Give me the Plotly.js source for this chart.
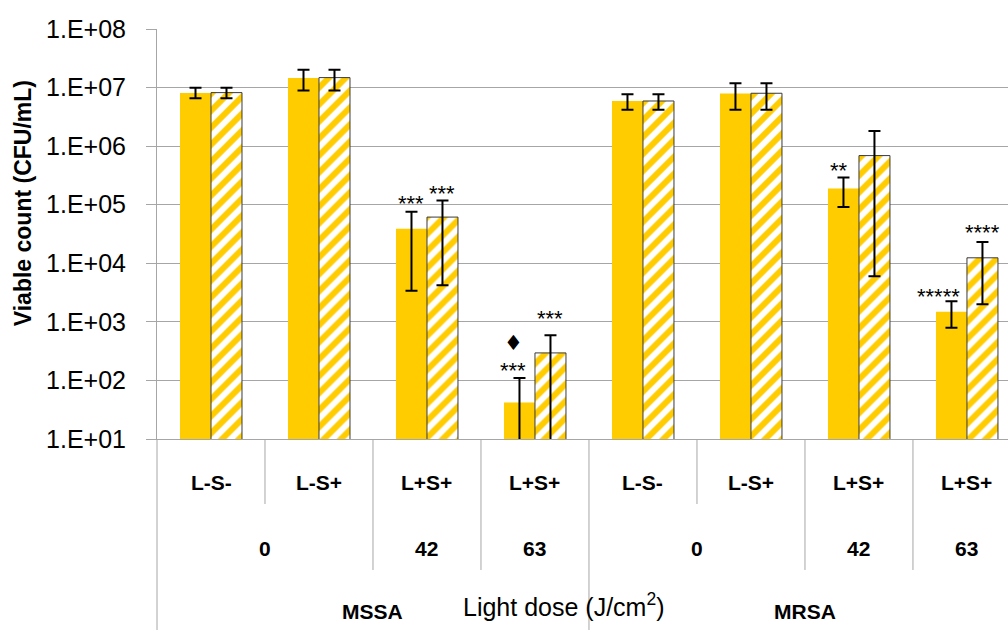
<!DOCTYPE html>
<html>
<head>
<meta charset="utf-8">
<script src="https://cdn.plot.ly/plotly-3.0.1.min.js"></script>
<style>
html, body { margin: 0; padding: 0; background: #fff; overflow: hidden; }
#chart { width: 1008px; height: 630px; }
</style>
</head>
<body>
<div id="chart"></div>
<script>
// ---- Data ----
const treatments = ['L-S-', 'L-S+', 'L+S+', 'L+S+', 'L-S-', 'L-S+', 'L+S+', 'L+S+'];
const doseLabels = ['0', '42', '63', '0', '42', '63'];
const doseStart = [0, 2, 3, 4, 6, 7];
const doseEnd = [1, 2, 3, 5, 6, 7];
const strainLabels = ['MSSA', 'MRSA'];
const strainStart = [0, 4];
const strainEnd = [3, 7];

const solidValues = [8.1e6, 1.46e7, 3.9e4, 42, 5.9e6, 7.9e6, 1.89e5, 1.49e3];
const solidErrPlus = [1.8e6, 5.6e6, 3.7e4, 68, 1.8e6, 4.0e6, 1.03e5, 750];
const solidErrMinus = [1.5e6, 5.7e6, 3.56e4, 37, 1.7e6, 3.7e6, 9.8e4, 700];

const hatchValues = [8.2e6, 1.48e7, 6.15e4, 295, 5.9e6, 8.0e6, 6.9e5, 1.24e4];
const hatchErrPlus = [1.7e6, 5.4e6, 5.65e4, 295, 1.8e6, 3.9e6, 1.13e6, 1.07e4];
const hatchErrMinus = [1.6e6, 5.9e6, 5.73e4, 290, 1.7e6, 3.8e6, 6.84e5, 1.04e4];

const yTickVals = [1e1, 1e2, 1e3, 1e4, 1e5, 1e6, 1e7, 1e8];
const yTickText = ['1.E+01', '1.E+02', '1.E+03', '1.E+04', '1.E+05', '1.E+06', '1.E+07', '1.E+08'];

// significance marks: group index, series (0 solid, 1 hatched), text
const sigGroup = [2, 2, 3, 3, 3, 6, 7, 7];
const sigSeries = [0, 1, 0, 0, 1, 0, 0, 1];
const sigText = ['***', '***', '***', '\u2666', '***', '**', '*****', '****'];

// ---- Styling / layout helpers ----
const YELLOW = '#FFCC00';
const GRID = '#A6A6A6';
const xIdx = treatments.map((_, i) => i);
const BAR_OFF = 0.1435; // half of one bar width in category units (bargap based)
const sigShift = [13, 12, 13, 35, 22, 12, 10, 14];
const sigDx = [0, 0, -6, -6, 0, -4, -13, 0];
const FAM = 'Liberation Sans, Arial, sans-serif';

const traceSolid = {
  type: 'bar', name: 'Solid', x: xIdx, y: solidValues,
  marker: { color: YELLOW, line: { width: 0 } },
  error_y: { type: 'data', symmetric: false, array: solidErrPlus, arrayminus: solidErrMinus,
             color: '#000', thickness: 2, width: 6 },
  hoverinfo: 'y', showlegend: false
};
const traceHatch = {
  type: 'bar', name: 'Hatched', x: xIdx, y: hatchValues,
  marker: { color: 'white', line: { color: '#3a3a3a', width: 1 },
            pattern: { shape: '/', fgcolor: YELLOW, bgcolor: 'white', size: 12, solidity: 0.5, fillmode: 'replace' } },
  error_y: { type: 'data', symmetric: false, array: hatchErrPlus, arrayminus: hatchErrMinus,
             color: '#000', thickness: 2, width: 6 },
  hoverinfo: 'y', showlegend: false
};

const annotations = [];
const shapes = [];
const lblFont = { family: FAM, size: 21, color: '#000' };

// row 1: treatment labels
treatments.forEach((t, i) => {
  annotations.push({ xref: 'x', yref: 'paper', x: i, y: -0.1066, text: '<b>' + t + '</b>',
    showarrow: false, font: lblFont, xanchor: 'center', yanchor: 'middle' });
});
// row 2: dose labels
doseLabels.forEach((d, k) => {
  annotations.push({ xref: 'x', yref: 'paper', x: (doseStart[k] + doseEnd[k]) / 2, y: -0.2659,
    text: '<b>' + d + '</b>', showarrow: false, font: lblFont, xanchor: 'center', yanchor: 'middle' });
});
// row 3: strain labels
strainLabels.forEach((s, k) => {
  annotations.push({ xref: 'x', yref: 'paper', x: (strainStart[k] + strainEnd[k]) / 2, y: -0.4207,
    text: '<b>' + s + '</b>', showarrow: false, font: lblFont, xanchor: 'center', yanchor: 'middle' });
});
// axis titles
annotations.push({ xref: 'paper', yref: 'paper', x: 0.4775, y: -0.405,
  text: 'Light dose (J/cm<sup>2</sup>)', showarrow: false,
  font: { family: FAM, size: 25, color: '#000' },
  xanchor: 'center', yanchor: 'middle' });
annotations.push({ xref: 'paper', yref: 'paper', x: -0.158, y: 0.574, textangle: -90,
  text: '<b>Viable count (CFU/mL)</b>', showarrow: false,
  font: { family: FAM, size: 23, color: '#000' },
  xanchor: 'center', yanchor: 'middle' });

// significance marks placed above the error bar tops
sigGroup.forEach((g, k) => {
  const s = sigSeries[k];
  const top = s === 0 ? solidValues[g] + solidErrPlus[g] : hatchValues[g] + hatchErrPlus[g];
  const isDiamond = sigText[k] === '\u2666';
  annotations.push({ xref: 'x', yref: 'y', x: g + (s === 0 ? -BAR_OFF : BAR_OFF), y: Math.log10(top),
    text: sigText[k], showarrow: false, xshift: sigDx[k], yshift: sigShift[k] - (isDiamond ? 0 : 5),
    font: { family: isDiamond ? 'DejaVu Sans, sans-serif' : FAM,
            size: isDiamond ? 21 : 22, color: '#000' },
    xanchor: 'center', yanchor: 'middle' });
});

// category divider lines below the axis
const dividerX = [0.5, 1.5, 2.5, 3.5, 4.5, 5.5, 6.5];
const dividerEnd = [-0.1585, -0.3195, -0.3195, -0.47, -0.1585, -0.3195, -0.3195];
dividerX.forEach((x, k) => {
  shapes.push({ type: 'line', xref: 'x', yref: 'paper', x0: x, x1: x, y0: 0, y1: dividerEnd[k],
    line: { color: GRID, width: 1 } });
});
shapes.push({ type: 'line', xref: 'paper', yref: 'paper', x0: 0, x1: 0, y0: 0, y1: -0.47,
  line: { color: GRID, width: 1 } });

const layout = {
  width: 1008, height: 630,
  margin: { l: 157, r: 0, t: 29, b: 191 },
  paper_bgcolor: 'white', plot_bgcolor: 'white',
  barmode: 'group', bargap: 0.426, bargroupgap: 0,
  font: { family: FAM, color: '#000' },
  xaxis: { type: 'linear', range: [-0.5, 7.38], showgrid: false, zeroline: false,
           showticklabels: false, ticks: '', showline: true, linecolor: GRID, linewidth: 1, fixedrange: true },
  yaxis: { type: 'log', range: [1, 8], tickvals: yTickVals, ticktext: yTickText,
           showgrid: true, gridcolor: GRID, gridwidth: 1, showline: true, linecolor: GRID, linewidth: 1,
           ticks: 'outside', ticklen: 10, tickcolor: GRID, ticklabelstandoff: 15,
           tickfont: { family: FAM, size: 25, color: '#000' }, zeroline: false },
  annotations: annotations,
  shapes: shapes
};

Plotly.newPlot('chart', [traceSolid, traceHatch], layout, { displayModeBar: false, staticPlot: true });
</script>
</body>
</html>
